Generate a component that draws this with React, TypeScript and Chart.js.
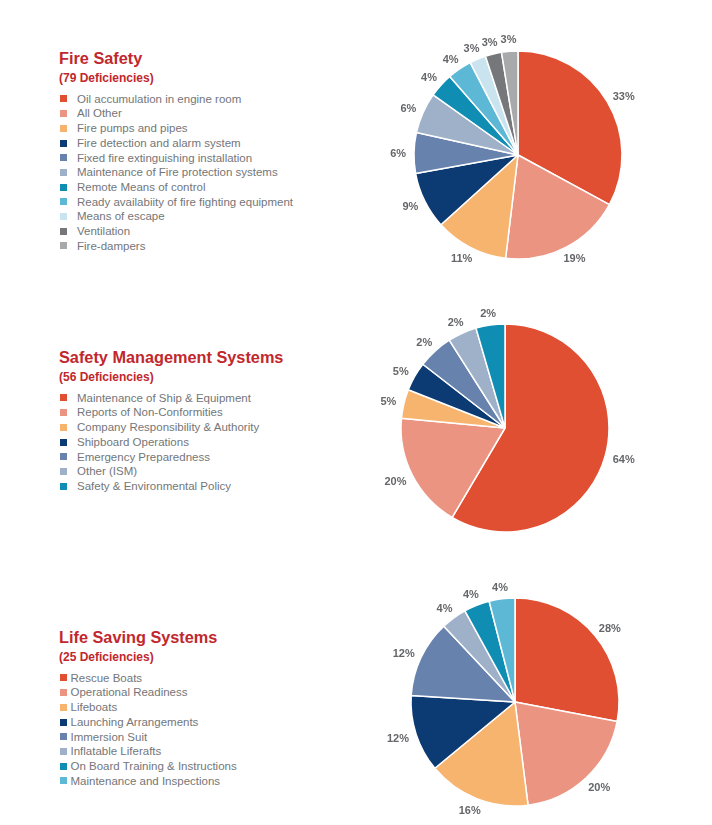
import React, { useEffect, useRef } from "react";
import { Chart, registerables } from "chart.js";

Chart.register(...registerables);

// ---------- palette ----------
const C_RED = "#e04f32";
const C_PINK = "#ec9482";
const C_ORANGE = "#f7b46e";
const C_NAVY = "#0c3a72";
const C_STEEL = "#6682ad";
const C_GREYBLUE = "#9fb0c9";
const C_TEAL = "#0f8db3";
const C_LIGHTTEAL = "#5db8d6";
const C_PALE = "#c9e4ef";
const C_DARKGREY = "#76777a";
const C_GREY = "#a8a9ab";

// ---------- Fire Safety ----------
const fireTitle = "Fire Safety";
const fireSubtitle = "(79 Deficiencies)";
const fireCategories = [
  "Oil accumulation in engine room",
  "All Other",
  "Fire pumps and pipes",
  "Fire detection and alarm system",
  "Fixed fire extinguishing installation",
  "Maintenance of Fire protection systems",
  "Remote Means of control",
  "Ready availabiity of fire fighting equipment",
  "Means of escape",
  "Ventilation",
  "Fire-dampers",
];
const fireValues = [26, 15, 9, 7, 5, 5, 3, 3, 2, 2, 2];
const firePctLabels = ["33%", "19%", "11%", "9%", "6%", "6%", "4%", "4%", "3%", "3%", "3%"];
const fireColors = [C_RED, C_PINK, C_ORANGE, C_NAVY, C_STEEL, C_GREYBLUE, C_TEAL, C_LIGHTTEAL, C_PALE, C_DARKGREY, C_GREY];

// ---------- Safety Management Systems ----------
const smsTitle = "Safety Management Systems";
const smsSubtitle = "(56 Deficiencies)";
const smsCategories = [
  "Maintenance of Ship & Equipment",
  "Reports of Non-Conformities",
  "Company Responsibility & Authority",
  "Shipboard Operations",
  "Emergency Preparedness",
  "Other (ISM)",
  "Safety & Environmental Policy",
];
const smsValues = [58.5, 18, 4.5, 4.5, 5.5, 4.5, 4.5];
const smsPctLabels = ["64%", "20%", "5%", "5%", "2%", "2%", "2%"];
const smsColors = [C_RED, C_PINK, C_ORANGE, C_NAVY, C_STEEL, C_GREYBLUE, C_TEAL];

// ---------- Life Saving Systems ----------
const lssTitle = "Life Saving Systems";
const lssSubtitle = "(25 Deficiencies)";
const lssCategories = [
  "Rescue Boats",
  "Operational Readiness",
  "Lifeboats",
  "Launching Arrangements",
  "Immersion Suit",
  "Inflatable Liferafts",
  "On Board Training & Instructions",
  "Maintenance and Inspections",
];
const lssValues = [7, 5, 4, 3, 3, 1, 1, 1];
const lssPctLabels = ["28%", "20%", "16%", "12%", "12%", "4%", "4%", "4%"];
const lssColors = [C_RED, C_PINK, C_ORANGE, C_NAVY, C_STEEL, C_GREYBLUE, C_TEAL, C_LIGHTTEAL];

const FONT = "'Liberation Sans', Arial, Helvetica, sans-serif";

const outsideLabels = {
  id: "outsideLabels",
  afterDatasetsDraw(chart: any, _args: any, opts: any) {
    const ctx = chart.ctx;
    const meta = chart.getDatasetMeta(0);
    const texts: string[] = opts.texts || [];
    ctx.save();
    ctx.font = `bold 11px ${FONT}`;
    ctx.fillStyle = "#656669";
    ctx.textAlign = "center";
    ctx.textBaseline = "alphabetic";
    meta.data.forEach((arc: any, i: number) => {
      const p = arc.getProps(["x", "y", "startAngle", "endAngle", "outerRadius"], true);
      const a = (p.startAngle + p.endAngle) / 2;
      const t = texts[i] || "";
      const w = ctx.measureText(t).width;
      const h = 8;
      const r = p.outerRadius + 8;
      const cx = p.x + Math.cos(a) * r + (Math.cos(a) * w) / 2;
      const cy = p.y + Math.sin(a) * r + (Math.sin(a) * h) / 2;
      ctx.fillText(t, cx, cy + 4);
    });
    ctx.restore();
  },
};

function PieCanvas(props: {
  values: number[];
  texts: string[];
  categories: string[];
  colors: string[];
  cx: number;
  cy: number;
}) {
  const ref = useRef<HTMLCanvasElement | null>(null);
  const W = 300;
  const H = 250;
  useEffect(() => {
    if (!ref.current) return;
    const chart = new Chart(ref.current, {
      type: "pie",
      data: {
        labels: props.categories,
        datasets: [
          {
            data: props.values,
            backgroundColor: props.colors,
            borderColor: "#ffffff",
            borderWidth: 1.5,
            radius: 104,
          } as any,
        ],
      },
      options: {
        animation: false,
        responsive: false,
        devicePixelRatio: 1,
        radius: 104,
        events: [],
        layout: { padding: 0 },
        plugins: {
          legend: { display: false },
          tooltip: { enabled: false },
          outsideLabels: { texts: props.texts },
        } as any,
      } as any,
      plugins: [outsideLabels as any],
    });
    return () => chart.destroy();
  }, []);
  return (
    <canvas
      ref={ref}
      width={W}
      height={H}
      style={{ position: "absolute", left: props.cx - W / 2, top: props.cy - H / 2, width: W, height: H }}
    />
  );
}

function Legend(props: {
  title: string;
  subtitle: string;
  categories: string[];
  colors: string[];
  offsetY: number;
  textX: number;
}) {
  const rowH = 14.7;
  return (
    <>
      <div
        style={{
          position: "absolute",
          left: 59,
          top: 47.5 + props.offsetY,
          font: `bold 16.3px/20px ${FONT}`,
          color: "#c1272d",
          whiteSpace: "nowrap",
        }}
      >
        {props.title}
      </div>
      <div
        style={{
          position: "absolute",
          left: 59,
          top: 71 + props.offsetY,
          font: `bold 12px/15px ${FONT}`,
          color: "#c1272d",
          whiteSpace: "nowrap",
        }}
      >
        {props.subtitle}
      </div>
      {props.categories.map((c, i) => (
        <div
          key={c}
          style={{
            position: "absolute",
            left: 59,
            top: 91.7 + props.offsetY + i * rowH,
            height: rowH,
            width: 300,
            font: `11.5px/${rowH}px ${FONT}`,
            color: "#747679",
            whiteSpace: "nowrap",
          }}
        >
          <span
            style={{
              position: "absolute",
              left: 1,
              top: 3.8,
              width: 7,
              height: 7,
              background: props.colors[i],
            }}
          />
          <span style={{ position: "absolute", left: props.textX - 59, top: 0 }}>{c}</span>
        </div>
      ))}
    </>
  );
}

export default function App() {
  return (
    <div
      style={{
        position: "absolute",
        left: 0,
        top: 0,
        width: 712,
        height: 825,
        overflow: "hidden",
        background: "#ffffff",
      }}
    >
      <Legend title={fireTitle} subtitle={fireSubtitle} categories={fireCategories} colors={fireColors} offsetY={0} textX={77} />
      <PieCanvas values={fireValues} texts={firePctLabels} categories={fireCategories} colors={fireColors} cx={518} cy={155} />

      <Legend title={smsTitle} subtitle={smsSubtitle} categories={smsCategories} colors={smsColors} offsetY={299} textX={77} />
      <PieCanvas values={smsValues} texts={smsPctLabels} categories={smsCategories} colors={smsColors} cx={505} cy={427.5} />

      <Legend title={lssTitle} subtitle={lssSubtitle} categories={lssCategories} colors={lssColors} offsetY={579} textX={70.5} />
      <PieCanvas values={lssValues} texts={lssPctLabels} categories={lssCategories} colors={lssColors} cx={514.5} cy={702} />
    </div>
  );
}
